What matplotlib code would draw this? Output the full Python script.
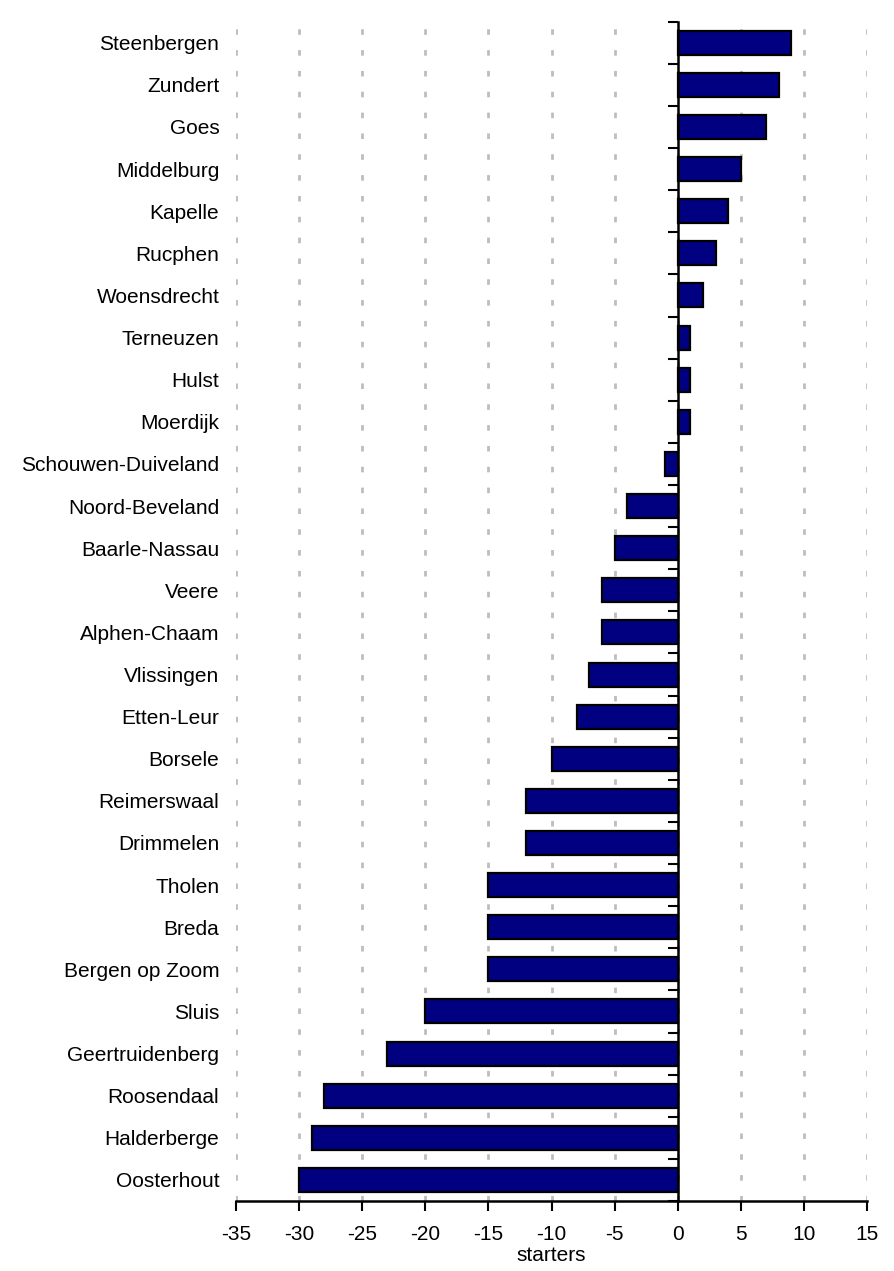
import matplotlib
matplotlib.use("Agg")
import matplotlib.pyplot as plt
import numpy as np

plt.rcParams['font.family'] = ['Liberation Sans', 'DejaVu Sans']

municipalities = ["Steenbergen", "Zundert", "Goes", "Middelburg", "Kapelle", "Rucphen",
                  "Woensdrecht", "Terneuzen", "Hulst", "Moerdijk", "Schouwen-Duiveland",
                  "Noord-Beveland", "Baarle-Nassau", "Veere", "Alphen-Chaam", "Vlissingen",
                  "Etten-Leur", "Borsele", "Reimerswaal", "Drimmelen", "Tholen", "Breda",
                  "Bergen op Zoom", "Sluis", "Geertruidenberg", "Roosendaal", "Halderberge",
                  "Oosterhout"]
starters = [9, 8, 7, 5, 4, 3, 2, 1, 1, 1, -1, -4, -5, -6, -6, -7, -8, -10, -12, -12,
            -15, -15, -15, -20, -23, -28, -29, -30]
x_ticks = [-35, -30, -25, -20, -15, -10, -5, 0, 5, 10, 15]
x_label = "starters"

fig = plt.figure(figsize=(8.95, 12.71), dpi=100)
ax = fig.add_axes([236/895, 1 - 1201/1271, (867-236)/895, (1201-21.7)/1271])

y = np.arange(len(municipalities))
ax.barh(y, starters, height=0.57, color='#000080', edgecolor='black', linewidth=1.6, zorder=3)

ax.set_xlim(x_ticks[0], x_ticks[-1])
ax.set_ylim(len(municipalities) - 0.5, -0.5)
ax.set_xticks(x_ticks)
ax.set_xticklabels([str(t) for t in x_ticks], fontsize=15)
ax.set_yticks(y)
ax.set_yticklabels(municipalities, fontsize=15)
ax.tick_params(axis='y', length=0, pad=12)
ax.tick_params(axis='x', length=7, width=1.5, direction='out', pad=10, color='black')

for s in ['left', 'right', 'top']:
    ax.spines[s].set_visible(False)
ax.spines['bottom'].set_linewidth(1.8)
ax.spines['bottom'].set_zorder(4)

ax.grid(axis='x', color='#bdbdbd', linewidth=2.0, linestyle=(0, (2.0, 5.5)), zorder=0)
ax.grid(axis='y', visible=False)

# zero axis with category boundary ticks
xmin, xmax = ax.get_xlim()
zero_loc = (0 - xmin) / (xmax - xmin)
sec = ax.secondary_yaxis(zero_loc)
sec.set_alignment('left')
sec.set_yticks(np.arange(len(municipalities) + 1) - 0.5)
sec.set_yticklabels([])
sec.tick_params(axis='y', length=7, width=1.5, direction='out', color='black')
sec.spines['left'].set_linewidth(1.8)
sec.spines['left'].set_color('black')
sec.set_zorder(5)

ax.set_xlabel(x_label, fontsize=15, labelpad=2)

fig.savefig("out.png", dpi=100)
